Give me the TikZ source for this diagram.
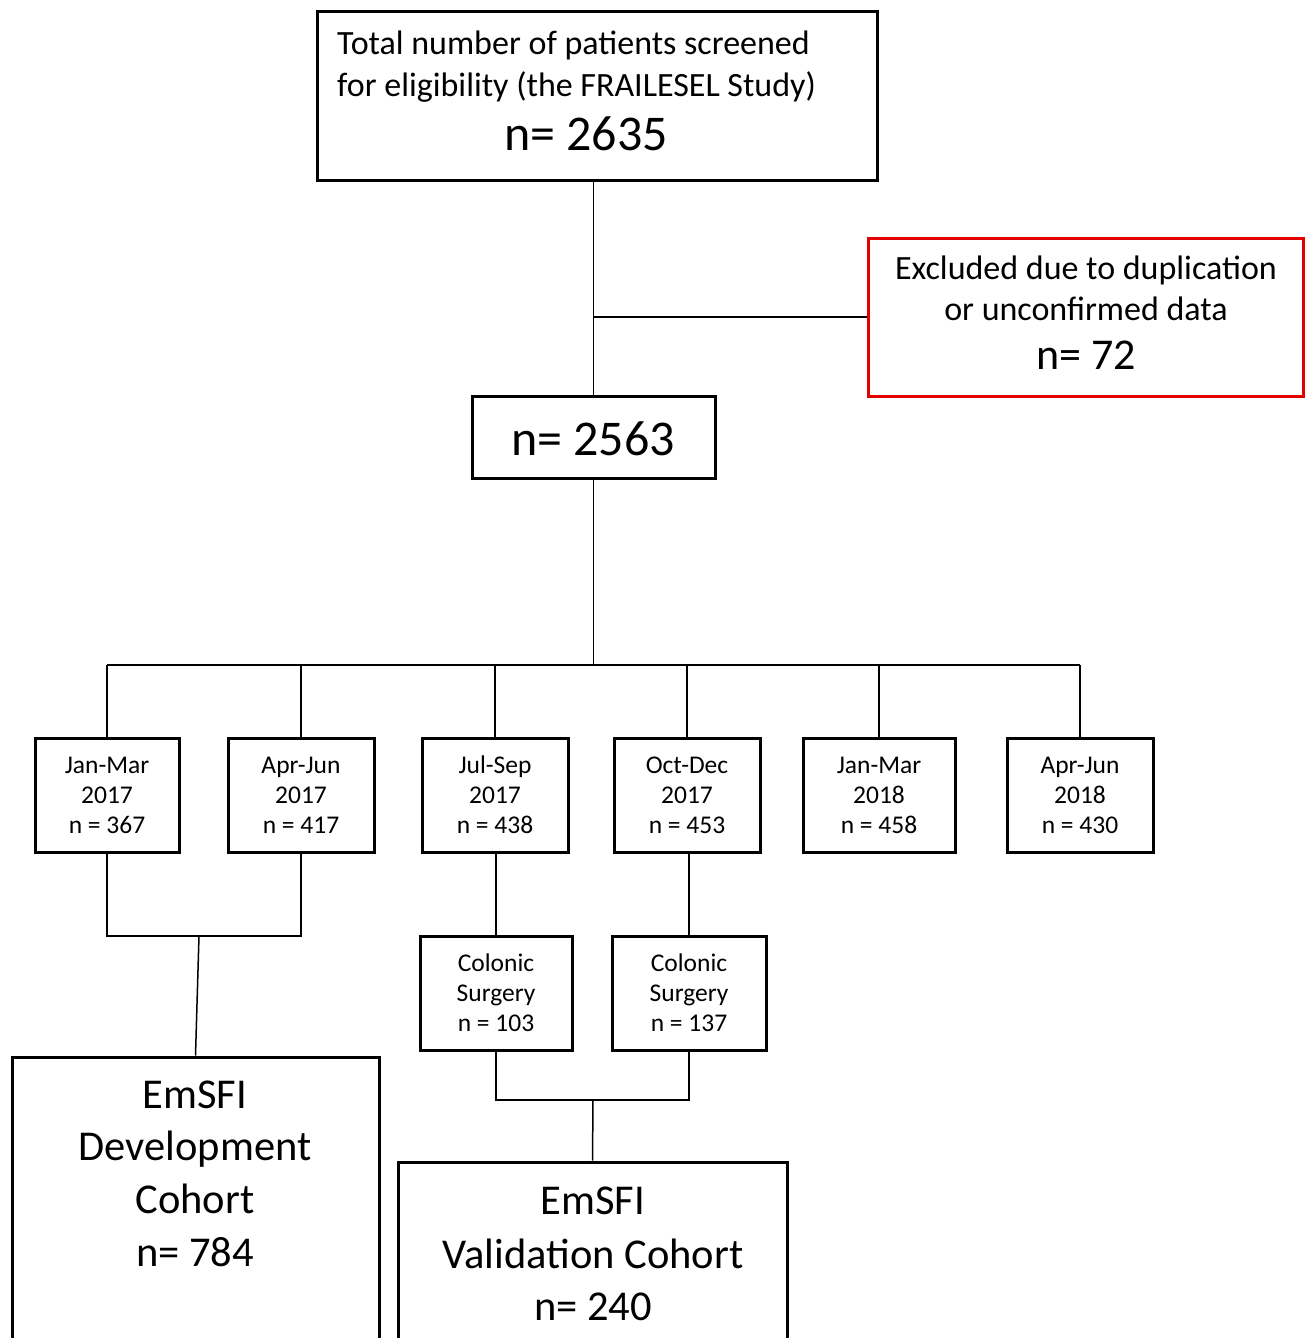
\documentclass[tikz,border=0pt]{standalone}
\usepackage{fontspec}
\setmainfont{Carlito}
\begin{document}
\begin{tikzpicture}[x=1pt,y=-1pt,
  box/.style={draw, line width=3pt, inner sep=0pt, fill=white},
  redbox/.style={draw=red!90!black, line width=3pt, inner sep=0pt},
  conn/.style={line width=1.5pt},
  tl/.style={anchor=base, inner sep=0pt},
  small/.style={tl, font=\fontsize{25.5}{30}\selectfont},
  mid/.style={tl, font=\fontsize{34}{40}\selectfont},
  big/.style={tl, font=\fontsize{42.5}{53}\selectfont},
  huge/.style={tl, font=\fontsize{50}{60}\selectfont}]
\clip (0,0) rectangle (1306,1338);
\fill[white] (0,0) rectangle (1306,1338);

% boxes
\node[box, minimum width=560pt, minimum height=168pt] (top) at (597,96) {};
\node[redbox, minimum width=435pt, minimum height=158pt] (excl) at (1085.5,317) {};
\node[box, minimum width=243pt, minimum height=82pt] (mid) at (593.5,437) {};
\node[box, minimum width=144pt, minimum height=114pt] (p1) at (107,795) {};
\node[box, minimum width=146pt, minimum height=114pt] (p2) at (301,795) {};
\node[box, minimum width=146pt, minimum height=114pt] (p3) at (495,795) {};
\node[box, minimum width=146pt, minimum height=114pt] (p4) at (687,795) {};
\node[box, minimum width=152pt, minimum height=114pt] (p5) at (879,795) {};
\node[box, minimum width=146pt, minimum height=114pt] (p6) at (1080,795) {};
\node[box, minimum width=152pt, minimum height=114pt] (c1) at (496,993) {};
\node[box, minimum width=154pt, minimum height=114pt] (c2) at (689,993) {};
\node[box, minimum width=367pt, minimum height=320pt] (dev) at (195.5,1217) {};
\node[box, minimum width=389pt, minimum height=220pt] (val) at (592.5,1272) {};

% texts
\node[mid, anchor=base west] (t1) at (337,55) {Total number of patients screened};
\node[mid, anchor=base west] (t2) at (337,96) {for eligibility (the FRAILESEL Study)};
\node[huge] (t3) at (586,150) {n= 2635};

\node[mid] (e1) at (1086,279) {Excluded due to duplication};
\node[mid] (e2) at (1086,320) {or unconfirmed data};
\node[tl, font=\fontsize{44}{52}\selectfont] (e3) at (1086,369) {n= 72};

\node[huge] (m1) at (593,455) {n= 2563};

\node[small] (p1a) at (107,773) {Jan-Mar};
\node[small] (p1b) at (107,803) {2017};
\node[small] (p1c) at (107,833) {n = 367};
\node[small] (p2a) at (301,773) {Apr-Jun};
\node[small] (p2b) at (301,803) {2017};
\node[small] (p2c) at (301,833) {n = 417};
\node[small] (p3a) at (495,773) {Jul-Sep};
\node[small] (p3b) at (495,803) {2017};
\node[small] (p3c) at (495,833) {n = 438};
\node[small] (p4a) at (687,773) {Oct-Dec};
\node[small] (p4b) at (687,803) {2017};
\node[small] (p4c) at (687,833) {n = 453};
\node[small] (p5a) at (879,773) {Jan-Mar};
\node[small] (p5b) at (879,803) {2018};
\node[small] (p5c) at (879,833) {n = 458};
\node[small] (p6a) at (1080,773) {Apr-Jun};
\node[small] (p6b) at (1080,803) {2018};
\node[small] (p6c) at (1080,833) {n = 430};

\node[small] (c1a) at (496,971) {Colonic};
\node[small] (c1b) at (496,1001) {Surgery};
\node[small] (c1c) at (496,1031) {n = 103};
\node[small] (c2a) at (689,971) {Colonic};
\node[small] (c2b) at (689,1001) {Surgery};
\node[small] (c2c) at (689,1031) {n = 137};

\node[big] (d1) at (195,1108) {EmSFI};
\node[big] (d2) at (195,1160) {Development};
\node[big] (d3) at (195,1213) {Cohort};
\node[big] (d4) at (195,1266) {n= 784};

\node[big] (v1) at (593,1214) {EmSFI};
\node[big] (v2) at (593,1268) {Validation Cohort};
\node[big] (v3) at (593,1320) {n= 240};

% connectors
\coordinate (busL) at (107,665);
\coordinate (busR) at (1080,665);
\coordinate (dj) at (199,936);
\coordinate (vj) at (593,1100);
\draw[conn] (top.south -| mid.north) -- (mid.north);
\draw[conn] (excl.west) -- (excl.west -| mid.north);
\draw[conn] (mid.south) -- (mid.south |- busL);
\draw[conn] (busL) -- (busR);
\foreach \p in {p1,p2,p3,p4,p5,p6} {\draw[conn] (\p.north) -- (\p.north |- busL);}
\draw[conn] (p1.south) -- (p1.south |- dj) -- (p2.south |- dj) -- (p2.south);
\draw[conn] (dj) -- (dev.north);
\draw[conn] (c1.north |- p3.south) -- (c1.north);
\draw[conn] (c2.north |- p4.south) -- (c2.north);
\draw[conn] (c1.south) -- (c1.south |- vj) -- (c2.south |- vj) -- (c2.south);
\draw[conn] (vj) -- (val.north);
\end{tikzpicture}
\end{document}
